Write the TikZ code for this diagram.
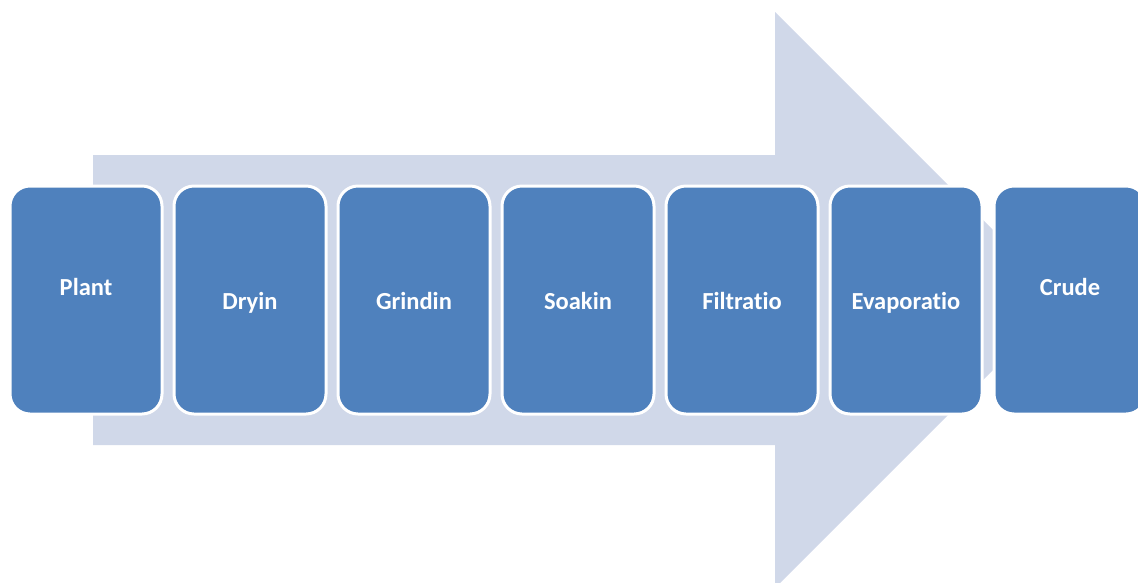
\documentclass[tikz,border=0pt]{standalone}
\usepackage{fontspec}
\setmainfont[Ligatures=NoCommon]{Carlito}
\definecolor{boxblue}{HTML}{4F81BD}
\definecolor{arrowfill}{HTML}{D0D8E9}
\begin{document}
\begin{tikzpicture}[x=1pt,y=-1pt,
  stepbox/.style={draw=white,line width=3pt,fill=boxblue,rounded corners=20pt,
    minimum width=152pt,minimum height=228pt,inner sep=0pt,
    text height=18pt,text depth=0pt,
    text=white,font=\bfseries\fontsize{24.5}{28}\selectfont}]
\useasboundingbox (0,0) rectangle (1138,582);
\clip (0,0) rectangle (1138,582);
\fill[arrowfill] (93,155) -- (775,155) -- (775,12) -- (1063,300) -- (775,588) -- (775,445) -- (93,445) -- cycle;
\node[stepbox] (b1) at (86,300) {\raisebox{14pt}{Plant}};
\node[stepbox] (b2) at (250,300) {Dryin};
\node[stepbox] (b3) at (414,300) {Grindin};
\node[stepbox] (b4) at (578,300) {Soakin};
\node[stepbox] (b5) at (742,300) {Filtratio};
\node[stepbox] (b6) at (906,300) {Evaporatio};
\node[stepbox] (b7) at (1070,300) {\raisebox{14pt}{Crude}};
\end{tikzpicture}
\end{document}
